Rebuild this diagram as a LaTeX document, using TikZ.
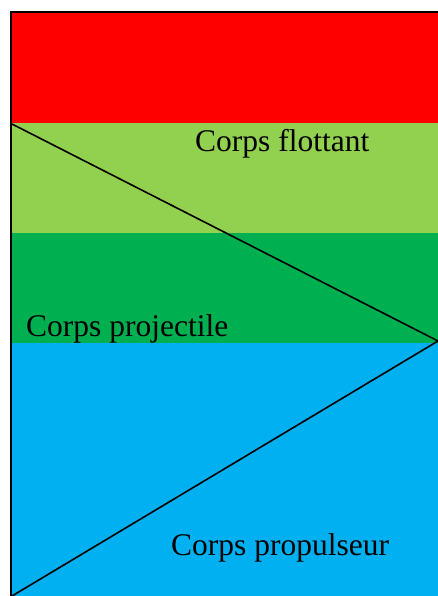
\documentclass[tikz,border=0pt]{standalone}
\usepackage{fontspec}
\setmainfont{Liberation Serif}
\usepackage{tikz}
\definecolor{bandRed}{RGB}{255,0,0}
\definecolor{bandLight}{RGB}{146,208,80}
\definecolor{bandDark}{RGB}{0,176,80}
\definecolor{bandBlue}{RGB}{0,176,240}
\tikzset{
  corps/.style={anchor=base west, inner sep=0pt, font=\fontsize{31.5}{36}\selectfont},
  edge/.style={line width=1.6pt, black}
}

\begin{document}
\begin{tikzpicture}[x=1pt, y=1pt]
    \useasboundingbox (0,0) rectangle (438,-596);
    % Colour bands
    \fill[bandRed]   (11,-12)  rectangle (438,-123);
    \fill[bandLight] (11,-123) rectangle (438,-233);
    \fill[bandDark]  (11,-233) rectangle (438,-343);
    \fill[bandBlue]  (11,-343) rectangle (438,-596);
    % Frame
    \draw[line width=2pt] (11,-596) -- (11,-12) -- (438,-12);
    % Diagonals
    \coordinate (hautG) at (12,-124);
    \coordinate (pointe) at (438,-341);
    \coordinate (basG) at (12,-596);
    \draw[edge] (hautG) -- (pointe);
    \draw[edge] (pointe) -- (basG);
    % Labels
    \node[corps] (flottant) at (195,-152) {Corps flottant};
    \node[corps] (projectile) at (26,-336) {Corps projectile};
    \node[corps] (propulseur) at (171,-555) {Corps propulseur};
\end{tikzpicture}
\end{document}
